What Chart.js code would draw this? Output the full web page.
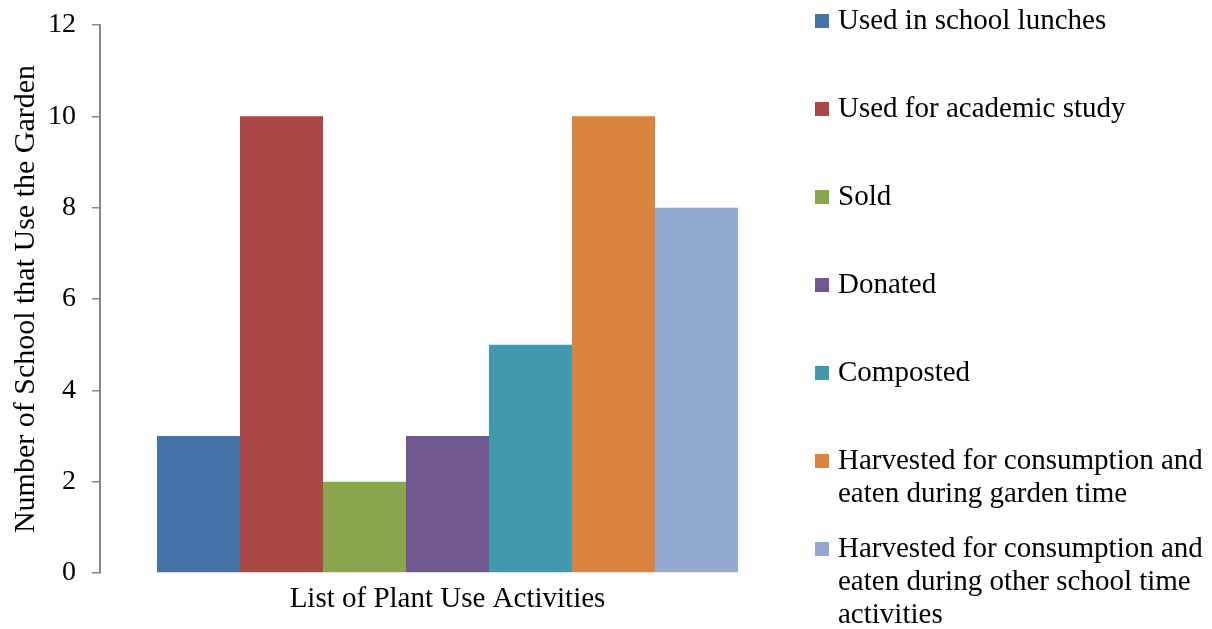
<!DOCTYPE html>
<html>
<head>
<meta charset="utf-8">
<script src="https://cdn.jsdelivr.net/npm/chart.js@4.4.1/dist/chart.umd.min.js"></script>
<style>
  html, body { margin: 0; padding: 0; background: #fff; }
  #wrap { width: 1212px; height: 629px; }
</style>
</head>
<body>
<div id="wrap"><canvas id="chart" width="1212" height="629"></canvas></div>
<script>
const categories = ['List of Plant Use Activities'];
const seriesLabels = [
    ['Used in school lunches'],
    ['Used for academic study'],
    ['Sold'],
    ['Donated'],
    ['Composted'],
    ['Harvested for consumption and', 'eaten during garden time'],
    ['Harvested for consumption and', 'eaten during other school time', 'activities']
];
const seriesValues = [3, 10, 2, 3, 5, 10, 8];
const seriesColors = ['#4572A7', '#AA4643', '#89A54E', '#71588F', '#4198AF', '#DB843D', '#93A9CF'];
const yTicks = [0, 2, 4, 6, 8, 10, 12];

const FONT = "'Liberation Serif', 'Times New Roman', serif";

// legend drawn on the right, Excel style, lines kept as in the original
const sideLegend = {
    id: 'sideLegend',
    afterDraw(chart) {
        const ctx = chart.ctx;
        ctx.save();
        ctx.font = '29px ' + FONT;
        ctx.textBaseline = 'middle';
        chart.data.datasets.forEach((ds, i) => {
            const y = 21 + i * 88;
            ctx.fillStyle = ds.backgroundColor;
            ctx.fillRect(815, y - 7, 14, 14);
            ctx.fillStyle = '#000';
            ds.lines.forEach((line, j) => {
                ctx.fillText(line, 838, y + j * 33);
            });
        });
        ctx.restore();
    }
};

const datasets = seriesLabels.map((lines, i) => ({
    label: lines.join(' '),
    lines: lines,
    data: [seriesValues[i]],
    backgroundColor: seriesColors[i],
    borderWidth: 0,
    categoryPercentage: 0.836,
    barPercentage: 1.0
}));

new Chart(document.getElementById('chart'), {
    type: 'bar',
    data: { labels: categories, datasets },
    options: {
        responsive: false,
        animation: false,
        layout: { padding: { top: 25, right: 417, bottom: 0, left: 0 } },
        plugins: {
            legend: { display: false },
            tooltip: { enabled: false }
        },
        scales: {
            x: {
                grid: { display: false },
                border: { display: false },
                ticks: { color: '#000', font: { family: FONT, size: 29 }, padding: 1 },
                afterFit(scale) { scale.height = 56; }
            },
            y: {
                min: 0,
                max: 12,
                afterBuildTicks(scale) { scale.ticks = yTicks.map(v => ({ value: v })); },
                grid: { drawOnChartArea: false, drawTicks: true, tickLength: 8, color: '#868686', lineWidth: 1.5 },
                border: { color: '#868686', width: 2 },
                ticks: { color: '#000', font: { family: FONT, size: 28 }, padding: 16 },
                title: {
                    display: true,
                    text: 'Number of School that Use the Garden',
                    color: '#000',
                    font: { family: FONT, size: 30 },
                    padding: { top: 8, bottom: 0 }
                },
                afterFit(scale) {
                    scale.width = 100;
                    scale.paddingTop = 0;
                    scale.paddingBottom = 0;
                }
            }
        }
    },
    plugins: [sideLegend]
});
</script>
</body>
</html>
